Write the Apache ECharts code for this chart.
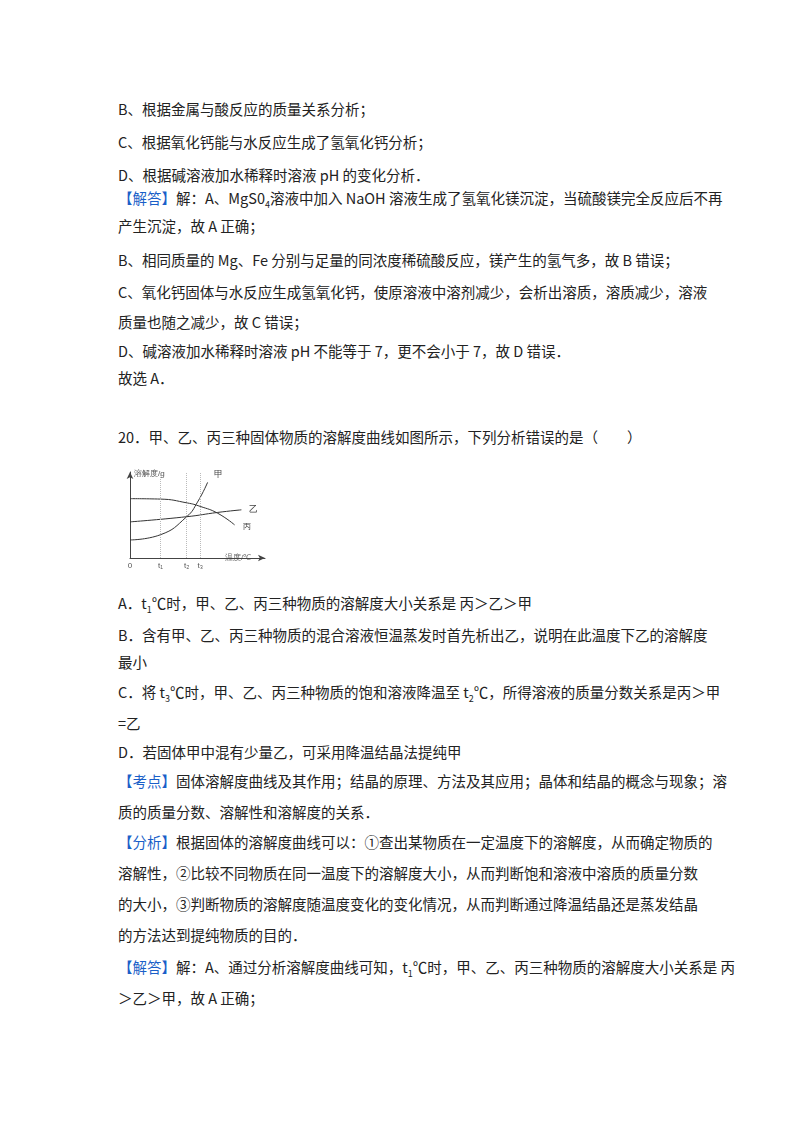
<!DOCTYPE html>
<html><head><meta charset="utf-8">
<script src="https://cdn.jsdelivr.net/npm/echarts@6/dist/echarts.min.js"></script>
<style>
body{margin:0;width:800px;height:1132px;background:#fff;font-family:"Noto Sans CJK SC",serif;color:#222;}
.l{position:absolute;left:118px;font-size:14.5px;white-space:nowrap;line-height:20px;}
.k{color:#1a5fc8;}
#chart{position:absolute;left:110px;top:460px;width:170px;height:125px;}
</style></head><body>
<div class="l" style="top:99px">B、根据金属与酸反应的质量关系分析；</div>
<div class="l" style="top:132px">C、根据氧化钙能与水反应生成了氢氧化钙分析；</div>
<div class="l" style="top:165px">D、根据碱溶液加水稀释时溶液 pH 的变化分析．</div>
<div class="l" style="top:188px"><span class="k">【解答】</span>解：A、MgS0<sub style="font-size:9px">4</sub>溶液中加入 NaOH 溶液生成了氢氧化镁沉淀，当硫酸镁完全反应后不再</div>
<div class="l" style="top:216px">产生沉淀，故 A 正确；</div>
<div class="l" style="top:250px">B、相同质量的 Mg、Fe 分别与足量的同浓度稀硫酸反应，镁产生的氢气多，故 B 错误；</div>
<div class="l" style="top:282px">C、氧化钙固体与水反应生成氢氧化钙，使原溶液中溶剂减少，会析出溶质，溶质减少，溶液</div>
<div class="l" style="top:312px">质量也随之减少，故 C 错误；</div>
<div class="l" style="top:341px">D、碱溶液加水稀释时溶液 pH 不能等于 7，更不会小于 7，故 D 错误．</div>
<div class="l" style="top:368px">故选 A．</div>
<div class="l" style="top:427px">20．甲、乙、丙三种固体物质的溶解度曲线如图所示，下列分析错误的是（　　）</div>
<div id="chart"></div>
<div class="l" style="top:593px">A．t<sub style="font-size:9px">1</sub>℃时，甲、乙、丙三种物质的溶解度大小关系是 丙＞乙＞甲</div>
<div class="l" style="top:625px">B．含有甲、乙、丙三种物质的混合溶液恒温蒸发时首先析出乙，说明在此温度下乙的溶解度</div>
<div class="l" style="top:652px">最小</div>
<div class="l" style="top:682px">C．将 t<sub style="font-size:9px">3</sub>℃时，甲、乙、丙三种物质的饱和溶液降温至 t<sub style="font-size:9px">2</sub>℃，所得溶液的质量分数关系是丙＞甲</div>
<div class="l" style="top:713px">=乙</div>
<div class="l" style="top:742px">D．若固体甲中混有少量乙，可采用降温结晶法提纯甲</div>
<div class="l" style="top:771px"><span class="k">【考点】</span>固体溶解度曲线及其作用；结晶的原理、方法及其应用；晶体和结晶的概念与现象；溶</div>
<div class="l" style="top:802px">质的质量分数、溶解性和溶解度的关系．</div>
<div class="l" style="top:832px"><span class="k">【分析】</span>根据固体的溶解度曲线可以：①查出某物质在一定温度下的溶解度，从而确定物质的</div>
<div class="l" style="top:863px">溶解性，②比较不同物质在同一温度下的溶解度大小，从而判断饱和溶液中溶质的质量分数</div>
<div class="l" style="top:894px">的大小，③判断物质的溶解度随温度变化的变化情况，从而判断通过降温结晶还是蒸发结晶</div>
<div class="l" style="top:925px">的方法达到提纯物质的目的．</div>
<div class="l" style="top:957px"><span class="k">【解答】</span>解：A、通过分析溶解度曲线可知，t<sub style="font-size:9px">1</sub>℃时，甲、乙、丙三种物质的溶解度大小关系是 丙</div>
<div class="l" style="top:988px">＞乙＞甲，故 A 正确；</div>
<script>
var xTicks=[0,22.5,42,52];
var xTickLabels=['0','t₁','t₂','t₃'];
var jiaX=[0,22.5,42,50,57.5], jiaY=[21,27,48,65,88];
var yiX=[0,42,65,82.5], yiY=[42,48,53,56];
var bingX=[0,22.5,42.5,52,65,77.5], bingY=[69,68.5,64,60,52,38.5];
function pts(xs,ys){return xs.map(function(x,i){return [x,ys[i]];});}
var dash={type:'line',silent:true,data:[],markLine:{symbol:'none',label:{show:false},lineStyle:{color:'#bbb',type:'dotted',width:1},
  data:[{xAxis:22.5},{xAxis:42},{xAxis:52}]}};
var myChart=echarts.init(document.getElementById('chart'));
var lineStyle={color:'#333',width:1};
myChart.setOption({
  animation:false,
  grid:{left:20,top:12,width:135,height:86},
  xAxis:{type:'value',min:0,max:100,splitLine:{show:false},
    axisLine:{lineStyle:{color:'#444'},symbol:['none','arrow'],symbolSize:[5,7]},
    axisTick:{show:false},
    axisLabel:{customValues:xTicks,formatter:function(v){return xTickLabels[xTicks.indexOf(v)];},fontSize:8,color:'#555',margin:4},
    name:'温度/℃',nameGap:-40,nameLocation:'end',nameTextStyle:{fontSize:8,color:'#666',padding:[32,0,0,0]}},
  yAxis:{type:'value',min:0,max:100,splitLine:{show:false},axisTick:{show:false},axisLabel:{show:false},
    axisLine:{lineStyle:{color:'#444'},symbol:['none','arrow'],symbolSize:[5,7]},
    name:'溶解度/g',nameLocation:'end',nameGap:0,nameTextStyle:{fontSize:8,color:'#555',align:'left',padding:[0,0,-6,4]}},
  series:[dash,
    {name:'甲',type:'line',smooth:true,symbol:'none',lineStyle:lineStyle,data:pts(jiaX,jiaY),
      endLabel:{show:true,formatter:'甲',fontSize:9,color:'#444',offset:[-2,-8]}},
    {name:'乙',type:'line',smooth:true,symbol:'none',lineStyle:lineStyle,data:pts(yiX,yiY),
      endLabel:{show:true,formatter:'乙',fontSize:9,color:'#444',offset:[0,0]}},
    {name:'丙',type:'line',smooth:true,symbol:'none',lineStyle:lineStyle,data:pts(bingX,bingY),
      endLabel:{show:true,formatter:'丙',fontSize:8,color:'#444',offset:[0,2]}}
  ]
});
</script>
</body></html>
